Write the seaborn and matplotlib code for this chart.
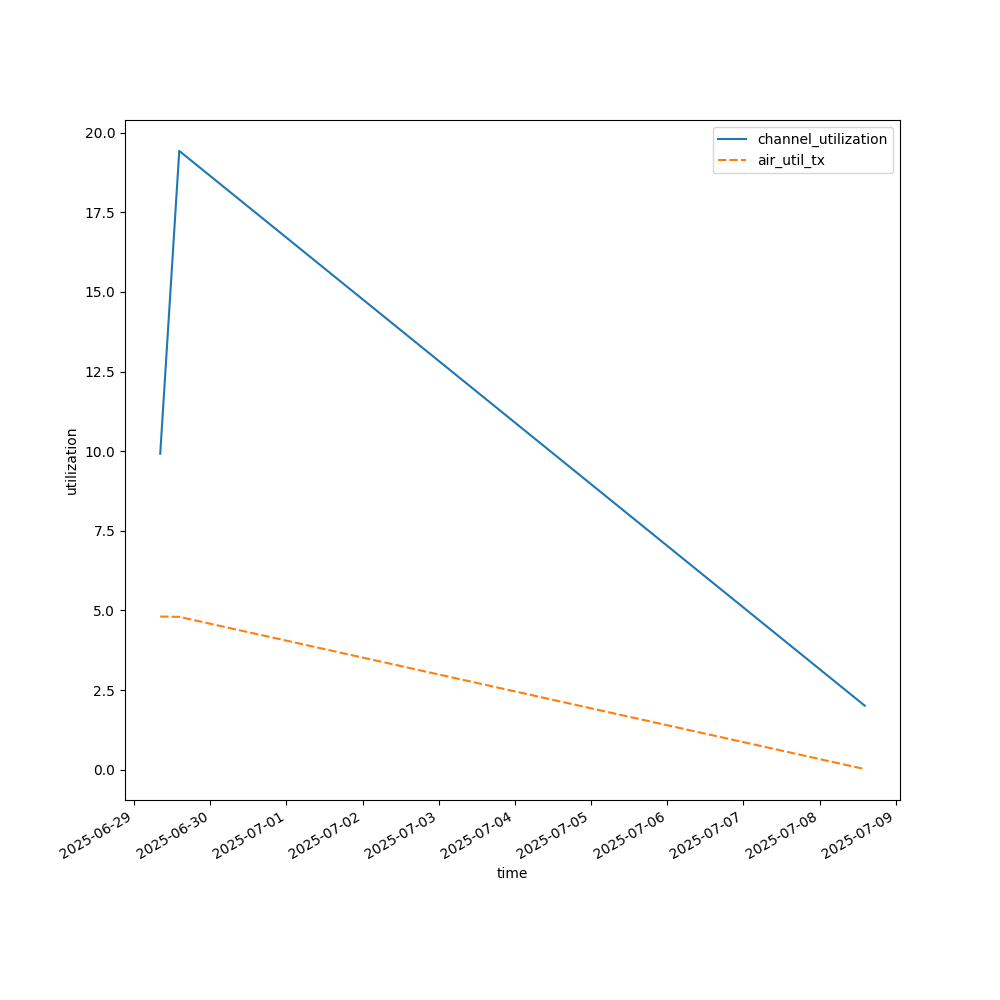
"""
Channel / air utilization over time
"""
import pandas as pd
import matplotlib
matplotlib.use("Agg")
import matplotlib.pyplot as plt
import seaborn as sns

# readings taken off the chart
times = ["2025-06-29 08:15", "2025-06-29 14:15", "2025-07-08 14:15"]
channel_utilization = [9.92, 19.43, 2.01]
air_util_tx = [4.81, 4.80, 0.02]

df = pd.DataFrame(
    {"channel_utilization": channel_utilization, "air_util_tx": air_util_tx},
    index=pd.to_datetime(times),
)
df.index.name = "time"

fig, ax = plt.subplots(figsize=(10, 10), dpi=100)
sns.lineplot(data=df, ax=ax)
ax.set_xlabel("time")
ax.set_ylabel("utilization")
fig.autofmt_xdate()

fig.savefig("out.png", dpi=100)
plt.close(fig)
